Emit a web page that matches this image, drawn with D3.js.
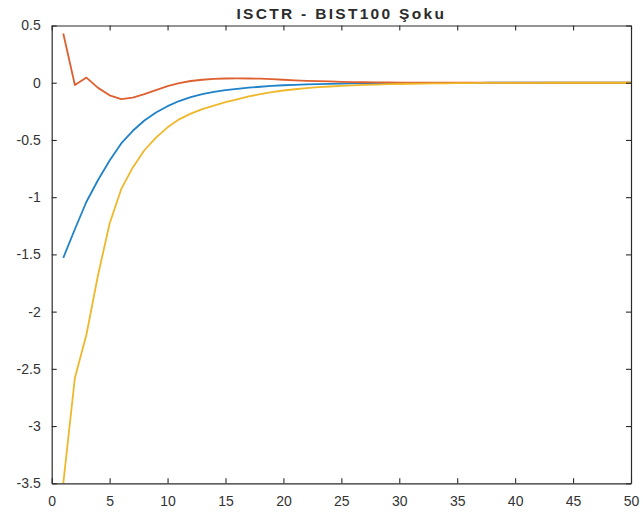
<!DOCTYPE html>
<html>
<head>
<meta charset="utf-8">
<script src="https://cdn.jsdelivr.net/npm/d3@7"></script>
<style>
  html, body { margin: 0; padding: 0; background: #fff; }
  svg { display: block; }
  text { font-family: "Liberation Sans", Arial, Helvetica, sans-serif; }
</style>
</head>
<body>
<script>
// Impulse responses to a BIST100 shock, periods 1..50
const periods = d3.range(1, 51);

const seriesOrange = [0.43, -0.02, 0.045, -0.045, -0.11, -0.143, -0.13, -0.10, -0.065, -0.03,
  -0.003, 0.015, 0.026, 0.033, 0.037, 0.038, 0.037, 0.035, 0.031, 0.026,
  0.021, 0.017, 0.014, 0.011, 0.008, 0.006, 0.004, 0.003, 0.002, 0.0015,
  0.001, 0.0008, 0.0006, 0.0004, 0.0003, 0.0002, 0.0001, 0.0001, 0, 0,
  0, 0, 0, 0, 0, 0, 0, 0, 0, 0];

const seriesBlue = [-1.53, -1.28, -1.04, -0.85, -0.68, -0.53, -0.42, -0.33, -0.26, -0.205,
  -0.16, -0.125, -0.1, -0.08, -0.065, -0.053, -0.043, -0.035, -0.028, -0.022,
  -0.018, -0.014, -0.012, -0.01, -0.008, -0.006, -0.005, -0.004, -0.003, -0.0025,
  -0.002, -0.0015, -0.0012, -0.001, -0.0008, -0.0006, -0.0005, -0.0004, -0.0003, -0.0002,
  -0.0002, -0.0001, -0.0001, 0, 0, 0, 0, 0, 0, 0];

const seriesYellow = [-3.5, -2.58, -2.2, -1.68, -1.23, -0.93, -0.74, -0.59, -0.48, -0.39,
  -0.32, -0.27, -0.23, -0.2, -0.17, -0.145, -0.12, -0.1, -0.083, -0.068,
  -0.057, -0.047, -0.039, -0.033, -0.028, -0.023, -0.019, -0.016, -0.013, -0.011,
  -0.009, -0.007, -0.006, -0.005, -0.004, -0.003, -0.002, -0.0015, -0.001, -0.0008,
  -0.0006, -0.0005, -0.0004, -0.0003, -0.0002, -0.0002, -0.0001, -0.0001, 0, 0];

const xTicks = [0, 5, 10, 15, 20, 25, 30, 35, 40, 45, 50];
const yTicks = [0.5, 0, -0.5, -1, -1.5, -2, -2.5, -3, -3.5];
const titleText = "ISCTR - BIST100 Şoku";

const W = 643, H = 527;
const margin = { left: 51.7, right: W - 631, top: 25.5, bottom: H - 483.3 };

const svg = d3.select("body").append("svg").attr("width", W).attr("height", H);

const x = d3.scaleLinear().domain([0, 50]).range([margin.left, W - margin.right]);
const y = d3.scaleLinear().domain([-3.5, 0.5]).range([H - margin.bottom, margin.top]);

const axisColor = "#2b2b2b";
const fmt = d => String(d).replace("\u2212", "-");

// Response lines
const line = d3.line().x((d, i) => x(periods[i])).y(d => y(d));
const series = [
  { values: seriesBlue, color: "#1f82c8" },
  { values: seriesOrange, color: "#de6030" },
  { values: seriesYellow, color: "#efb82a" }
];
svg.append("g").selectAll("path").data(series).join("path")
  .attr("d", d => line(d.values))
  .attr("fill", "none")
  .attr("stroke", d => d.color)
  .attr("stroke-width", 1.8)
  .attr("stroke-linejoin", "round");

// Axes with inward ticks, boxed like a MATLAB figure
function styleAxis(g) {
  g.select(".domain").attr("stroke", axisColor).attr("stroke-width", 1.2);
  g.selectAll(".tick line").attr("stroke", axisColor).attr("stroke-width", 1.1);
  g.selectAll(".tick text").attr("fill", "#333").attr("font-size", 14);
}

const xBottom = svg.append("g")
  .attr("transform", `translate(0,${y(-3.5)})`)
  .call(d3.axisBottom(x).tickValues(xTicks).tickFormat(fmt).tickSizeInner(-5).tickSizeOuter(0).tickPadding(13));
styleAxis(xBottom);

const xTop = svg.append("g")
  .attr("transform", `translate(0,${y(0.5)})`)
  .call(d3.axisTop(x).tickValues(xTicks).tickFormat("").tickSizeInner(-5).tickSizeOuter(0));
styleAxis(xTop);

const yLeft = svg.append("g")
  .attr("transform", `translate(${x(0)},0)`)
  .call(d3.axisLeft(y).tickValues(yTicks).tickFormat(fmt).tickSizeInner(-5).tickSizeOuter(0).tickPadding(11));
styleAxis(yLeft);

const yRight = svg.append("g")
  .attr("transform", `translate(${x(50)},0)`)
  .call(d3.axisRight(y).tickValues(yTicks).tickFormat("").tickSizeInner(-5).tickSizeOuter(0));
styleAxis(yRight);

// Title
svg.append("text")
  .attr("x", (x(0) + x(50)) / 2)
  .attr("y", 18.5)
  .attr("text-anchor", "middle")
  .attr("font-size", 15.5)
  .attr("font-weight", "bold")
  .attr("letter-spacing", 2.3)
  .attr("fill", axisColor)
  .text(titleText);
</script>
</body>
</html>
